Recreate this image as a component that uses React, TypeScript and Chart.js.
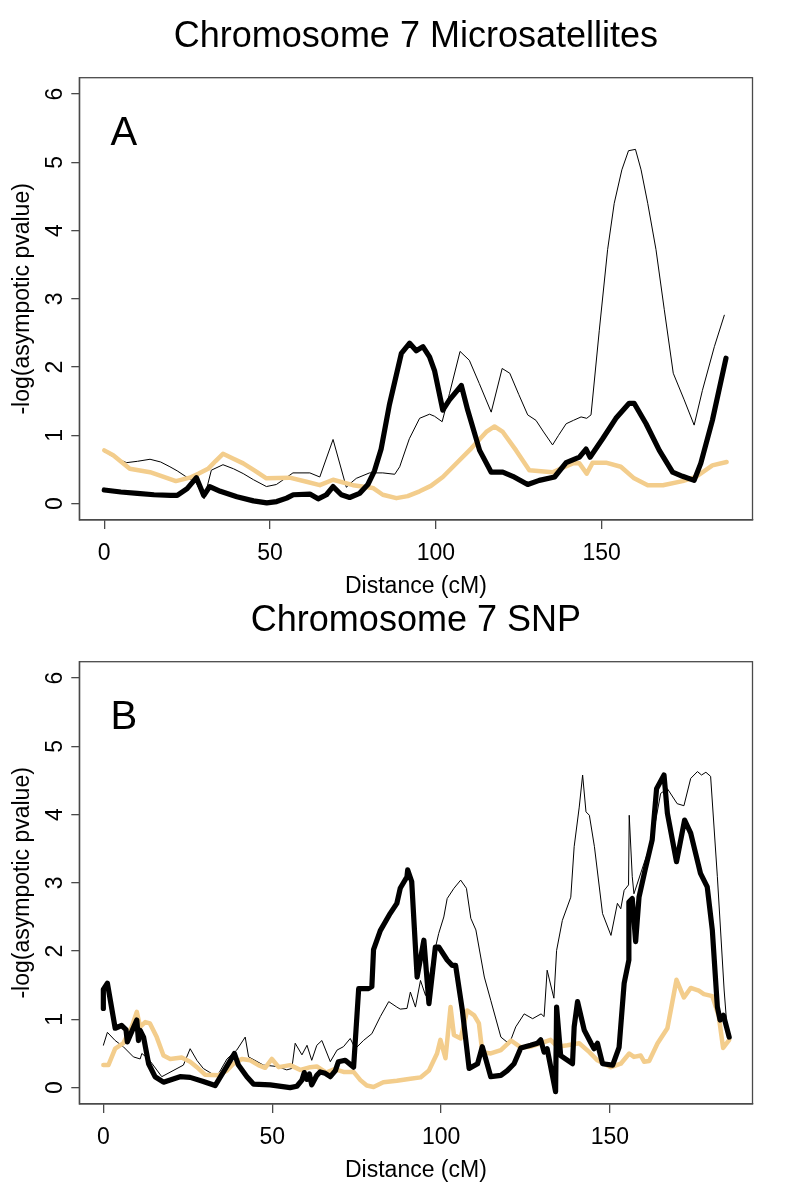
import React, { useEffect, useRef } from "react";
import { Chart, registerables } from "chart.js";

Chart.register(...registerables);

const FONT = "'Liberation Sans', Arial, Helvetica, sans-serif";
const TAN = "#F3CD8C";
const BOX = "#4a4a4a";

type Pt = [number, number];

// ---- shared tick labels ----
const xTickValues = [0, 50, 100, 150];
const yTickValues = [0, 1, 2, 3, 4, 5, 6];

// ---- Panel A: Chromosome 7 Microsatellites ----
const microThick: Pt[] = [
  [0, 0.2], [5, 0.17], [10, 0.15], [15, 0.13], [20, 0.12], [22, 0.12], [25, 0.22], [27.8, 0.38], [30, 0.12],
  [31.8, 0.25], [35, 0.18], [40, 0.1], [45, 0.04], [49, 0.01], [52, 0.03], [55, 0.08], [57, 0.13], [62, 0.14],
  [64.5, 0.07], [67, 0.13], [69, 0.25], [71.5, 0.13], [74, 0.09], [77, 0.15], [79.5, 0.28], [81.5, 0.48],
  [83.5, 0.8], [86, 1.45], [89.6, 2.2], [92.1, 2.35], [94.1, 2.24], [96.1, 2.3], [98.1, 2.15], [99.6, 1.95],
  [102.1, 1.37], [104.1, 1.52], [107.7, 1.73], [109.6, 1.37], [113.2, 0.78], [116.7, 0.46], [120.2, 0.46],
  [123.2, 0.4], [127.7, 0.28], [131.2, 0.34], [135.8, 0.39], [139.3, 0.6], [143.3, 0.68], [145.3, 0.8],
  [146.5, 0.68], [150.3, 0.95], [154.3, 1.25], [158.3, 1.47], [159.8, 1.47], [163.4, 1.17], [167.4, 0.78],
  [171.4, 0.46], [174.4, 0.4], [177.9, 0.34], [179.9, 0.59], [183.4, 1.22], [187.5, 2.13],
];
const microThin: Pt[] = [
  [0, 0.76], [3, 0.68], [6.7, 0.6], [10, 0.62], [13.8, 0.65], [17, 0.61], [19.8, 0.54], [22, 0.48], [24.8, 0.39],
  [27.8, 0.3], [30.1, 0.07], [32.3, 0.49], [35.8, 0.57], [39, 0.51], [41.9, 0.44], [45, 0.35], [48.9, 0.25],
  [51.9, 0.28], [54, 0.35], [56.9, 0.45], [62, 0.45], [65, 0.39], [69, 0.94], [73, 0.24], [74.3, 0.3], [76, 0.37],
  [80, 0.45], [84, 0.45], [87.6, 0.43], [89.1, 0.54], [92, 0.95], [95.1, 1.25], [98.1, 1.31], [99.6, 1.28],
  [101.9, 1.2], [104.1, 1.61], [107.3, 2.23], [110.1, 2.1], [113.1, 1.76], [116.7, 1.34], [120, 1.98],
  [122.3, 1.91], [125, 1.6], [127.7, 1.3], [130.2, 1.22], [132.5, 1.05], [135.2, 0.86], [137, 1.0], [139.3, 1.17],
  [141.5, 1.22], [143.8, 1.27], [145.5, 1.25], [146.8, 1.3], [149.3, 2.54], [151.8, 3.72], [153.8, 4.4],
  [156.1, 4.89], [158.1, 5.17], [160.2, 5.19], [161.9, 4.89], [163.9, 4.4], [166.4, 3.72], [168.9, 2.84],
  [171.6, 1.91], [174.9, 1.52], [177.9, 1.15], [180.4, 1.66], [184, 2.3], [187, 2.76],
];
const microTan: Pt[] = [
  [0, 0.78], [2.7, 0.71], [7.7, 0.51], [13.8, 0.46], [17.5, 0.4], [21.6, 0.33], [25.8, 0.38], [28.5, 0.44],
  [31.3, 0.51], [33.5, 0.62], [35.8, 0.73], [38.8, 0.66], [41.9, 0.59], [45.5, 0.48], [48.9, 0.37], [55.9, 0.38],
  [61, 0.32], [65, 0.27], [69, 0.35], [75, 0.27], [81, 0.23], [84, 0.13], [88.1, 0.08], [91.5, 0.11],
  [95.1, 0.18], [98.5, 0.26], [102.1, 0.39], [106.6, 0.61], [110.7, 0.81], [115.2, 1.05], [117.7, 1.13],
  [120.2, 1.05], [124.2, 0.78], [128.2, 0.49], [135.2, 0.46], [141.3, 0.59], [143.3, 0.59], [145.5, 0.44],
  [147.3, 0.6], [151.3, 0.6], [155.8, 0.54], [159.8, 0.37], [163.9, 0.27], [168.5, 0.27], [174.4, 0.33],
  [178.4, 0.39], [183.4, 0.56], [187.7, 0.61],
];

// ---- Panel B: Chromosome 7 SNP ----
const snpThick: Pt[] = [
  [0, 1.16], [0, 1.44], [1.2, 1.53], [3.5, 0.87], [5.4, 0.91], [6.7, 0.85], [7.1, 0.67], [8.4, 0.82], [9.9, 0.99],
  [10.4, 0.69], [10.9, 0.84], [11.9, 0.74], [13.4, 0.35], [15.3, 0.16], [17.8, 0.08], [22.7, 0.16], [25.7, 0.15],
  [29.6, 0.09], [33.1, 0.03], [37.6, 0.4], [38.8, 0.5], [40, 0.33], [42.5, 0.16], [44.5, 0.05], [49.4, 0.04],
  [55.3, 0.0], [57.3, 0.02], [58.8, 0.11], [59.5, 0.22], [60.3, 0.12], [61, 0.2], [61.7, 0.04], [63.2, 0.18],
  [64.2, 0.23], [65.7, 0.21], [67.2, 0.16], [68.7, 0.25], [69.6, 0.38], [71.6, 0.4], [74.1, 0.3], [75.6, 1.45],
  [78.5, 1.45], [79.5, 1.48], [80, 2.02], [82, 2.3], [84.9, 2.55], [86.9, 2.7], [87.9, 2.92], [89.9, 3.09],
  [90.1, 3.19], [91.3, 3.02], [92.9, 1.62], [94.9, 2.16], [96.4, 1.23], [98.3, 2.06], [99.3, 2.06], [101.8, 1.87],
  [103.3, 1.79], [104.3, 1.79], [106.3, 1.13], [108.3, 0.28], [110.8, 0.35], [112.2, 0.6], [114.7, 0.16],
  [117.7, 0.18], [119.6, 0.25], [121.6, 0.35], [123.6, 0.58], [126.5, 0.62], [128.5, 0.65], [129.5, 0.7],
  [130.5, 0.52], [131.4, 0.57], [133.9, -0.06], [134.2, 1.18], [135.4, 0.47], [138.9, 0.35], [139.4, 0.89],
  [140.4, 1.26], [142.4, 0.84], [144.4, 0.65], [145.3, 0.57], [146.3, 0.65], [147.8, 0.35], [150.8, 0.33],
  [152.7, 0.59], [154.2, 1.53], [155.6, 1.87], [155.6, 2.72], [156.6, 2.77], [157.6, 2.14], [158.6, 2.79],
  [160.5, 3.21], [162.5, 3.63], [163.8, 4.38], [166, 4.58], [167, 4.02], [169.7, 3.31], [172.1, 3.92],
  [173.9, 3.73], [176.8, 3.14], [178.8, 2.94], [180.3, 2.31], [181.8, 1.18], [182.6, 0.99], [183.6, 1.06],
  [185.3, 0.74],
];
const snpThin: Pt[] = [
  [0, 0.62], [1.2, 0.81], [3.5, 0.69], [5.9, 0.6], [8.9, 0.45], [10.9, 0.42], [11.4, 0.5], [13.4, 0.42],
  [17.3, 0.16], [23.7, 0.33], [25.7, 0.57], [27.7, 0.4], [29.6, 0.28], [33.6, 0.16], [36.6, 0.42], [39.5, 0.55],
  [42, 0.74], [43, 0.45], [47.4, 0.33], [51.4, 0.31], [54.3, 0.26], [55.8, 0.28], [56.8, 0.65], [58.8, 0.48],
  [60.3, 0.62], [61.7, 0.4], [63.2, 0.62], [64.7, 0.69], [67.2, 0.38], [69.2, 0.55], [71.1, 0.6], [73.1, 0.72],
  [74.6, 0.57], [77, 0.69], [79.5, 0.79], [82, 1.04], [84.5, 1.26], [86.9, 1.18], [87.9, 1.15], [89.9, 1.16],
  [90.9, 1.4], [92.4, 1.18], [93.9, 1.57], [95.4, 1.35], [97.9, 1.96], [99.3, 2.26], [100.8, 2.5], [101.8, 2.77],
  [103.8, 2.92], [105.8, 3.04], [107.5, 2.92], [108.8, 2.48], [110.3, 2.31], [112.8, 1.62], [114.7, 1.28],
  [117.7, 0.74], [120.2, 0.64], [122.1, 0.89], [124.6, 1.08], [127.1, 1.01], [129.6, 1.08], [130.5, 1.04],
  [131.4, 1.72], [133.4, 1.31], [134.2, 2.01], [135.9, 2.45], [138.4, 2.79], [139.4, 3.53], [140.9, 4.11],
  [141.9, 4.58], [142.9, 4.04], [143.9, 3.99], [145.4, 3.53], [147.8, 2.55], [150.3, 2.23], [152.2, 2.7],
  [153.2, 2.62], [154.2, 2.89], [155.5, 2.97], [155.7, 3.99], [156.6, 3.09], [157.1, 2.84], [160.1, 3.29],
  [162.5, 3.63], [165, 4.31], [167, 4.38], [169.9, 4.16], [171.9, 4.13], [173.9, 4.53], [175.9, 4.63],
  [177.1, 4.58], [178.4, 4.62], [179.8, 4.56], [181.8, 3.09], [183.8, 1.43], [184.8, 0.79],
];
const snpTan: Pt[] = [
  [0, 0.33], [1.5, 0.33], [3.5, 0.57], [5.9, 0.65], [8.4, 0.89], [9.9, 1.11], [10.9, 0.89], [12.4, 0.96],
  [13.8, 0.94], [15.8, 0.74], [17.8, 0.47], [19.8, 0.42], [23.2, 0.44], [25.7, 0.38], [27.7, 0.3], [30.1, 0.19],
  [34.1, 0.18], [36.6, 0.25], [38.5, 0.35], [41, 0.42], [43.5, 0.4], [45.9, 0.33], [47.9, 0.29], [49.9, 0.42],
  [51.9, 0.3], [55.3, 0.33], [58.3, 0.26], [61.3, 0.3], [63.2, 0.31], [66, 0.22], [68.5, 0.27], [71.1, 0.23],
  [74.1, 0.23], [76.1, 0.11], [78, 0.03], [80, 0.01], [82.9, 0.08], [86.9, 0.1], [90.9, 0.13], [93.9, 0.15],
  [96.4, 0.25], [98.8, 0.5], [99.8, 0.7], [101.3, 0.43], [102.8, 1.18], [103.8, 0.77], [105.8, 0.72],
  [107.7, 1.13], [109.8, 1.06], [111.2, 0.94], [112.2, 0.52], [114.7, 0.5], [117.7, 0.55], [120.7, 0.69],
  [123.6, 0.59], [126.5, 0.6], [129.5, 0.65], [132.4, 0.7], [134.4, 0.6], [137.4, 0.62], [140.9, 0.65],
  [143.9, 0.52], [146.3, 0.4], [150.3, 0.3], [153.2, 0.35], [155.7, 0.5], [157.1, 0.45], [159.1, 0.47],
  [160.1, 0.38], [161.6, 0.39], [164.1, 0.65], [167, 0.87], [169.7, 1.58], [171.9, 1.32], [173.9, 1.46],
  [176.3, 1.42], [177.8, 1.37], [180.3, 1.34], [182.2, 1.05], [183.5, 0.58], [185.3, 0.7],
];

const CANVAS_W = 796;
const CANVAS_H = 600;
const LABEL_SIZE = 23;

const framePlugin = {
  id: "frame",
  afterDatasetsDraw(chart: any, _args: any, opts: any) {
    const { ctx, chartArea: a, scales } = chart;
    ctx.save();
    ctx.strokeStyle = BOX;
    ctx.lineWidth = 1.3;
    ctx.strokeRect(a.left, a.top, a.right - a.left, a.bottom - a.top);
    ctx.fillStyle = "#000";
    ctx.font = `40px ${FONT}`;
    ctx.textAlign = "center";
    ctx.textBaseline = "middle";
    ctx.fillText(opts.letter, scales.x.getPixelForValue(opts.lx), scales.y.getPixelForValue(opts.ly));
    ctx.restore();
  },
};

function toXY(pts: Pt[]) {
  return pts.map(([x, y]) => ({ x, y }));
}

function makeConfig(title: string, letter: string, lx: number, ly: number, xmin: number, xmax: number,
  thick: Pt[], tan: Pt[], thin: Pt[]): any {
  return {
    type: "line",
    data: {
      datasets: [
        { data: toXY(thick), borderColor: "#000", borderWidth: 5.2, pointRadius: 0 },
        { data: toXY(tan), borderColor: TAN, borderWidth: 4.5, pointRadius: 0 },
        { data: toXY(thin), borderColor: "#000", borderWidth: 1, pointRadius: 0 },
      ],
    },
    options: {
      responsive: false,
      animation: false,
      devicePixelRatio: 1,
      layout: { padding: { left: 0, right: CANVAS_W - 752.5, top: 0, bottom: 0 } },
      elements: {
        point: { radius: 0 },
        line: { tension: 0, borderJoinStyle: "round", borderCapStyle: "round", fill: false },
      },
      plugins: {
        legend: { display: false },
        tooltip: { enabled: false },
        title: {
          display: true,
          text: title,
          fullSize: false,
          color: "#000",
          font: { family: FONT, size: 36, weight: "normal", lineHeight: 1.2 },
          padding: { top: 15, bottom: 19.5 },
        },
        frame: { letter, lx, ly },
      },
      scales: {
        x: {
          type: "linear",
          min: xmin,
          max: xmax,
          afterBuildTicks: (s: any) => {
            s.ticks = xTickValues.map((v) => ({ value: v }));
          },
          afterFit: (s: any) => {
            s.height = 80;
          },
          ticks: {
            color: "#000",
            font: { family: FONT, size: LABEL_SIZE },
            padding: 11,
            maxRotation: 0,
            autoSkip: false,
            callback: (v: any) => String(v),
          },
          grid: { drawOnChartArea: false, drawTicks: true, tickLength: 9, color: BOX, lineWidth: 1.3 },
          border: { display: true, color: BOX, width: 1.3 },
          title: {
            display: true,
            text: "Distance (cM)",
            color: "#000",
            font: { family: FONT, size: LABEL_SIZE },
            padding: { top: 0, bottom: 0 },
          },
        },
        y: {
          type: "linear",
          min: -0.24,
          max: 6.24,
          afterBuildTicks: (s: any) => {
            s.ticks = yTickValues.map((v) => ({ value: v }));
          },
          afterFit: (s: any) => {
            s.width = 79.3;
          },
          ticks: {
            color: "#000",
            font: { family: FONT, size: LABEL_SIZE },
            padding: 9.5,
            minRotation: 90,
            maxRotation: 90,
            crossAlign: "center",
            autoSkip: false,
            callback: (v: any) => String(v),
          },
          grid: { drawOnChartArea: false, drawTicks: true, tickLength: 8, color: BOX, lineWidth: 1.3 },
          border: { display: true, color: BOX, width: 1.3 },
          title: {
            display: true,
            text: "-log(asympotic pvalue)",
            color: "#000",
            font: { family: FONT, size: LABEL_SIZE },
            padding: { top: 8.5, bottom: 0 },
          },
        },
      },
    },
    plugins: [framePlugin],
  };
}

function Panel({ top, config }: { top: number; config: any }) {
  const ref = useRef<HTMLCanvasElement | null>(null);
  useEffect(() => {
    if (!ref.current) return;
    const chart = new Chart(ref.current, config);
    return () => chart.destroy();
  }, []);
  return (
    <canvas
      ref={ref}
      width={CANVAS_W}
      height={CANVAS_H}
      style={{ position: "absolute", left: 0, top, width: CANVAS_W, height: CANVAS_H, display: "block" }}
    />
  );
}

export default function App() {
  const cfgA = makeConfig("Chromosome 7 Microsatellites", "A", 5.9, 5.42, -7.53, 195.5, microThick, microTan, microThin);
  const cfgB = makeConfig("Chromosome 7 SNP", "B", 6.1, 5.41, -7.12, 192.2, snpThick, snpTan, snpThin);
  return (
    <div style={{ position: "absolute", left: 0, top: 0, width: 796, height: 1200, background: "#fff" }}>
      <Panel top={0} config={cfgA} />
      <Panel top={584} config={cfgB} />
    </div>
  );
}
